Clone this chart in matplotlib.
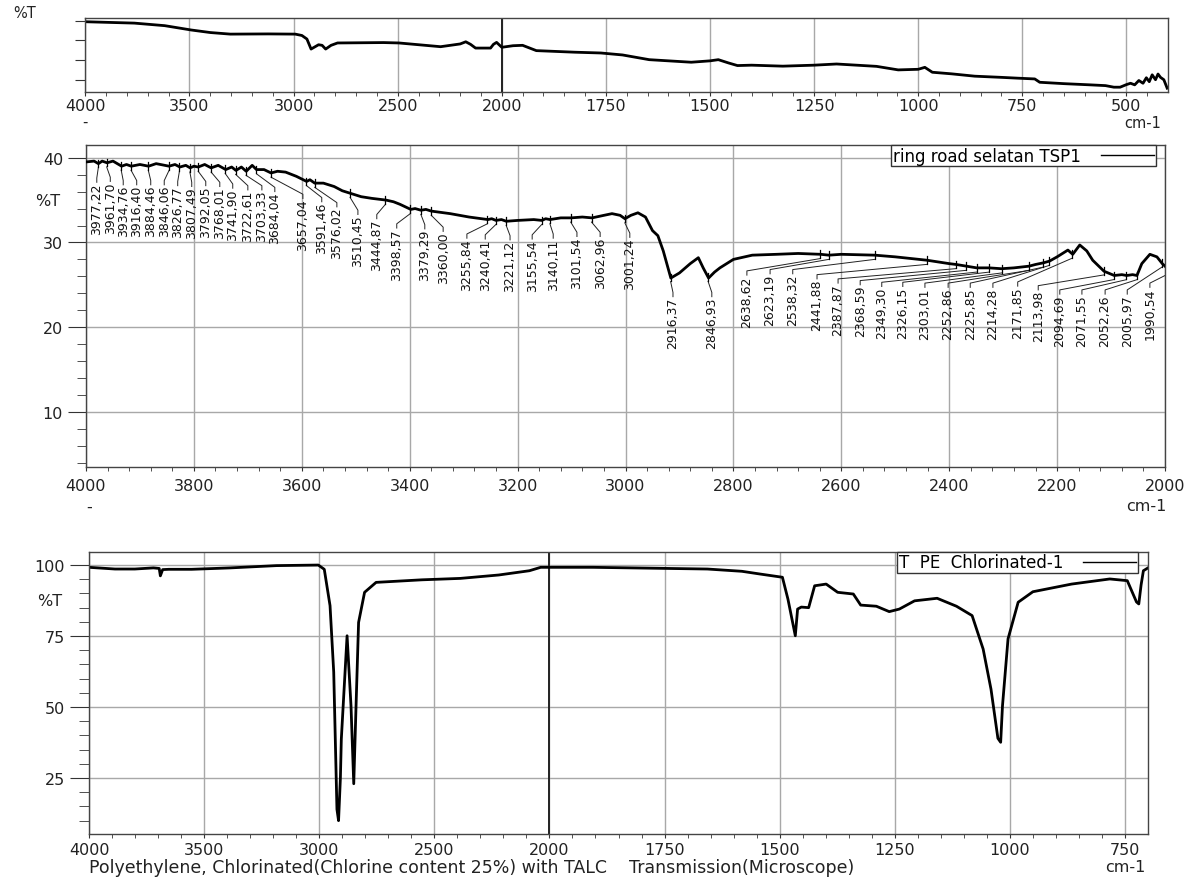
import numpy as np
import matplotlib
matplotlib.use("Agg")
import matplotlib.pyplot as plt
from matplotlib.ticker import FixedLocator, MultipleLocator, NullFormatter
from matplotlib.lines import Line2D

plt.rcParams['font.family'] = ['DejaVu Sans']

# ---- data ----
# top panel: full spectrum (ring road selatan TSP1)
full_wn = [4000, 3900, 3765, 3619, 3492, 3400, 3304, 3121, 2992, 2960, 2936, 2916, 2880,
           2863, 2846, 2820, 2789, 2568, 2494, 2294, 2200, 2173, 2150, 2126, 2054, 2040,
           2025, 2010, 2000, 1973, 1950, 1917, 1825, 1762, 1710, 1646, 1545, 1500, 1480,
           1455, 1434, 1400, 1325, 1250, 1196, 1100, 1048, 1000, 984, 966, 920, 864, 800,
           762, 720, 708, 650, 588, 550, 530, 515, 500, 490, 480, 470, 460, 452, 445, 438,
           430, 424, 418, 410, 402]
full_t = [39.5, 39.2, 38.8, 37.5, 35.3, 34.0, 33.2, 33.3, 33.2, 32.5, 30.7, 25.6, 27.8,
          27.5, 25.6, 27.5, 28.7, 28.9, 28.7, 26.8, 28.2, 29.3, 28.0, 26.1, 26.1, 28.0,
          29.0, 27.5, 26.5, 27.3, 27.5, 24.8, 24.0, 23.6, 22.6, 20.2, 18.9, 19.6, 20.2,
          18.5, 17.2, 17.4, 16.9, 17.4, 18.0, 16.8, 15.0, 15.3, 16.3, 13.8, 13.0, 11.8,
          11.2, 10.8, 10.4, 8.7, 8.0, 7.4, 7.0, 6.2, 6.2, 7.5, 8.2, 7.4, 9.6, 8.2, 11.0,
          9.0, 12.5, 10.0, 12.9, 11.2, 10.0, 5.7]

# middle panel: zoom 4000-2000
mid_wn = [4000, 3985, 3977, 3970, 3961, 3950, 3934, 3925, 3916, 3900, 3884, 3870, 3846,
          3835, 3826, 3815, 3807, 3800, 3792, 3780, 3768, 3755, 3741, 3730, 3722, 3712,
          3703, 3692, 3684, 3670, 3657, 3645, 3630, 3610, 3591, 3585, 3576, 3560, 3540,
          3525, 3510, 3490, 3470, 3444, 3430, 3418, 3398, 3390, 3379, 3370, 3360, 3325,
          3290, 3255, 3248, 3240, 3230, 3221, 3200, 3170, 3155, 3148, 3140, 3120, 3101,
          3080, 3062, 3040, 3025, 3010, 3001, 2990, 2977, 2963, 2950, 2940, 2930, 2916,
          2900, 2880, 2865, 2856, 2846, 2835, 2825, 2800, 2765, 2720, 2680, 2638, 2623,
          2600, 2538, 2500, 2441, 2400, 2387, 2368, 2349, 2326, 2303, 2280, 2252, 2240,
          2225, 2214, 2200, 2180, 2171, 2158, 2145, 2134, 2113, 2094, 2080, 2071, 2060,
          2052, 2043, 2028, 2015, 2005, 1995]
mid_t = [39.5, 39.6, 39.3, 39.6, 39.4, 39.6, 39.0, 39.2, 39.0, 39.2, 39.0, 39.3, 39.0,
         39.2, 38.9, 39.1, 38.8, 39.0, 38.9, 39.2, 38.8, 39.1, 38.6, 38.9, 38.5, 38.9,
         38.4, 39.1, 38.6, 38.6, 38.2, 38.4, 38.3, 37.8, 37.2, 37.4, 37.0, 37.0, 36.6,
         36.1, 35.8, 35.4, 35.2, 35.0, 34.8, 34.5, 33.9, 34.0, 33.8, 33.9, 33.7, 33.4,
         33.0, 32.7, 32.8, 32.6, 32.7, 32.5, 32.6, 32.7, 32.6, 32.8, 32.7, 32.9, 32.9,
         33.0, 32.9, 33.2, 33.4, 33.2, 32.8, 33.2, 33.5, 33.0, 31.4, 30.8, 29.0, 25.8,
         26.4, 27.5, 28.2, 27.0, 25.8, 26.5, 27.0, 28.0, 28.5, 28.6, 28.7, 28.6, 28.5,
         28.6, 28.5, 28.3, 27.9, 27.5, 27.4, 27.2, 27.0, 27.0, 26.9, 27.0, 27.2, 27.4,
         27.6, 27.8, 28.3, 29.1, 28.6, 29.7, 29.0, 27.9, 26.6, 26.1, 26.2, 26.1, 26.2,
         26.1, 27.5, 28.6, 28.3, 27.5, 26.9]

peaks = [3977.22, 3961.70, 3934.76, 3916.40, 3884.46, 3846.06, 3826.77, 3807.49, 3792.05,
         3768.01, 3741.90, 3722.61, 3703.33, 3684.04, 3657.04, 3591.46, 3576.02, 3510.45,
         3444.87, 3398.57, 3379.29, 3360.00, 3255.84, 3240.41, 3221.12, 3155.54, 3140.11,
         3101.54, 3062.96, 3001.24, 2916.37, 2846.93, 2638.62, 2623.19, 2538.32, 2441.88,
         2387.87, 2368.59, 2349.30, 2326.15, 2303.01, 2252.86, 2225.85, 2214.28, 2171.85,
         2113.98, 2094.69, 2071.55, 2052.26, 2005.97, 1990.54]

# where the peak labeler put each text (wavenumber of the label column)
label_x = [3980, 3955, 3931, 3906, 3880, 3855, 3830, 3804, 3778, 3752, 3728, 3700, 3674,
           3650, 3598, 3563, 3535, 3496, 3461, 3424, 3372, 3338, 3294, 3260, 3214, 3173,
           3134, 3090, 3047, 2992, 2912, 2840, 2775, 2732, 2690, 2645, 2606, 2565, 2525,
           2486, 2445, 2402, 2361, 2319, 2273, 2235, 2195, 2154, 2111, 2070, 2028]

# bottom panel: reference spectrum
ref_wn = [4000, 3887, 3801, 3720, 3695, 3690, 3680, 3653, 3554, 3386, 3186, 3004, 2978,
          2953, 2937, 2923, 2916, 2908, 2904, 2879, 2862, 2850, 2840, 2829, 2803, 2753,
          2554, 2387, 2220, 2087, 2038, 1906, 1657, 1582, 1541, 1494, 1482, 1466, 1461,
          1453, 1437, 1424, 1399, 1374, 1340, 1324, 1290, 1262, 1240, 1207, 1158, 1116,
          1082, 1058, 1041, 1026, 1020, 1016, 1004, 982, 950, 866, 783, 745, 733, 725,
          720, 715, 710, 700]
ref_t = [99.2, 98.6, 98.6, 99.0, 98.8, 96.2, 98.4, 98.5, 98.5, 99.0, 99.8, 100.0, 98.5,
         85.7, 62.3, 14.0, 10.0, 25.0, 38.7, 75.1, 50.5, 23.0, 50.5, 79.8, 90.4, 93.9,
         94.8, 95.3, 96.5, 98.0, 99.2, 99.2, 98.6, 97.8, 96.8, 95.7, 88.0, 75.1, 84.5,
         85.2, 85.0, 92.7, 93.3, 90.4, 89.8, 85.9, 85.5, 83.6, 84.5, 87.4, 88.3, 85.5,
         82.2, 70.4, 56.3, 39.0, 37.6, 50.5, 74.0, 86.9, 90.6, 93.3, 95.1, 94.5, 90.0,
         87.0, 86.3, 93.0, 98.0, 99.0]

W, H = 1194, 879


def box(l, t, r, b):
    return [l / W, 1 - b / H, (r - l) / W, (b - t) / H]


def fwd(x):
    x = np.asarray(x, float)
    return np.where(x >= 2000, x, 2 * x - 2000)


def inv(u):
    u = np.asarray(u, float)
    return np.where(u >= 2000, u, (u + 2000) / 2)


def style(ax, pad=6):
    for s in ax.spines.values():
        s.set_color('#444444')
        s.set_linewidth(1.0)
    ax.tick_params(axis='both', which='both', direction='out', colors='#333333',
                   labelcolor='#222222', labelsize=11.5)
    ax.tick_params(axis='x', which='both', length=3, pad=pad)
    ax.grid(True, which='major', color='#a8a8a8', linewidth=1.0)
    ax.set_axisbelow(True)


def add_legend(ax, label, right):
    leg = ax.legend([Line2D([], [], color='black', lw=1.0)], [label],
                    loc='upper right', bbox_to_anchor=(right, 1.0),
                    borderaxespad=0, markerfirst=False, fancybox=False, framealpha=1,
                    edgecolor='#333333', fontsize=12, handlelength=3.2, borderpad=0.1,
                    handletextpad=1.2)
    leg.get_frame().set_linewidth(1.0)


fig = plt.figure(figsize=(W / 100, H / 100), dpi=100)

# ---------- top ----------
ax1 = fig.add_axes(box(85.4, 19, 1168, 93.3))
ax1.set_xscale('function', functions=(fwd, inv))
ax1.set_xlim(4000, 400)
ax1.set_ylim(3.6, 41.4)
ax1.xaxis.set_major_locator(FixedLocator([4000, 3500, 3000, 2500, 2000, 1750, 1500,
                                          1250, 1000, 750, 500]))
ax1.xaxis.set_minor_locator(FixedLocator(list(np.arange(4000, 2000, -100)) +
                                         list(np.arange(2000, 400, -50))))
ax1.yaxis.set_major_locator(FixedLocator([10, 20, 30, 40]))
ax1.yaxis.set_major_formatter(NullFormatter())
style(ax1, pad=1)
ax1.grid(False, axis='y')
ax1.tick_params(axis='y', length=7)
ax1.axvline(2000, color='#222222', lw=1.4, zorder=1)
ax1.plot(full_wn, full_t, color='black', lw=2.0)

# ---------- middle ----------
ax2 = fig.add_axes(box(86, 146, 1165, 468))
ax2.set_xlim(4000, 2000)
ax2.set_ylim(3.5, 41.5)
ax2.xaxis.set_major_locator(MultipleLocator(200))
ax2.xaxis.set_minor_locator(MultipleLocator(40))
ax2.yaxis.set_major_locator(FixedLocator([10, 20, 30, 40]))
ax2.yaxis.set_minor_locator(MultipleLocator(2))
style(ax2, pad=5)
ax2.tick_params(axis='y', which='major', length=13)
ax2.tick_params(axis='y', which='minor', length=6.5)
ax2.plot(mid_wn, mid_t, color='black', lw=2.0, zorder=3)

xs = np.array(mid_wn[::-1], float)
ys = np.array(mid_t[::-1], float)
grid_x = np.linspace(1990, 4000, 2011)
grid_y = np.interp(grid_x, xs, ys)
for p, lx in zip(peaks, label_x):
    yp = np.interp(p, xs, ys)
    lo, hi = min(p, lx), max(p, lx)
    seg = grid_y[(grid_x >= lo - 1) & (grid_x <= hi + 1)]
    top = seg.min() - 2.2
    ax2.plot([p, p], [yp - 0.45, yp + 0.45], color='black', lw=0.9, zorder=4)
    ax2.plot([p, lx, lx], [yp - 0.5, top + 0.5, top], color='#222222', lw=0.7, zorder=2)
    ax2.text(lx, top, f"{p:.2f}".replace('.', ','), rotation=90, ha='center', va='top',
             fontsize=9, color='#111111', zorder=5)

add_legend(ax2, 'ring road selatan TSP1', (1156 - 86) / 1079)

# ---------- bottom ----------
ax3 = fig.add_axes(box(89, 552.7, 1148, 835))
ax3.set_xscale('function', functions=(fwd, inv))
ax3.set_xlim(4000, 700)
ax3.set_ylim(5.3, 104.7)
ax3.xaxis.set_major_locator(FixedLocator([4000, 3500, 3000, 2500, 2000, 1750, 1500,
                                          1250, 1000, 750]))
ax3.xaxis.set_minor_locator(FixedLocator(list(np.arange(4000, 2000, -100)) +
                                         list(np.arange(2000, 700, -50))))
ax3.yaxis.set_major_locator(FixedLocator([25, 50, 75, 100]))
ax3.yaxis.set_minor_locator(MultipleLocator(5))
style(ax3, pad=3)
ax3.tick_params(axis='y', which='major', length=14)
ax3.tick_params(axis='y', which='minor', length=7)
ax3.axvline(2000, color='#222222', lw=1.4, zorder=1)
ax3.plot(ref_wn, ref_t, color='black', lw=2.0)

add_legend(ax3, 'T  PE  Chlorinated-1', (1138 - 89) / 1059)


# ---------- loose texts ----------
def ftext(x, y, s, size=11.5, **kw):
    fig.text(x / W, 1 - y / H, s, fontsize=size, color='#222222', **kw)


ftext(25, 13, '%T', size=10.5, ha='center', va='center')
ftext(85, 122, '-', size=10.5, ha='center', va='center')
ftext(1143, 123, 'cm-1', size=10.5, ha='center', va='center')
ftext(48, 202, '%T', ha='center', va='center')
ftext(89, 507, '-', ha='center', va='center')
ftext(1146, 507, 'cm-1', ha='center', va='center')
ftext(50, 602, '%T', ha='center', va='center')
ftext(89, 868, 'Polyethylene, Chlorinated(Chlorine content 25%) with TALC    '
      'Transmission(Microscope)', size=12.5, ha='left', va='center')
ftext(1125, 868, 'cm-1', ha='center', va='center')

fig.savefig('out.png', dpi=100)
